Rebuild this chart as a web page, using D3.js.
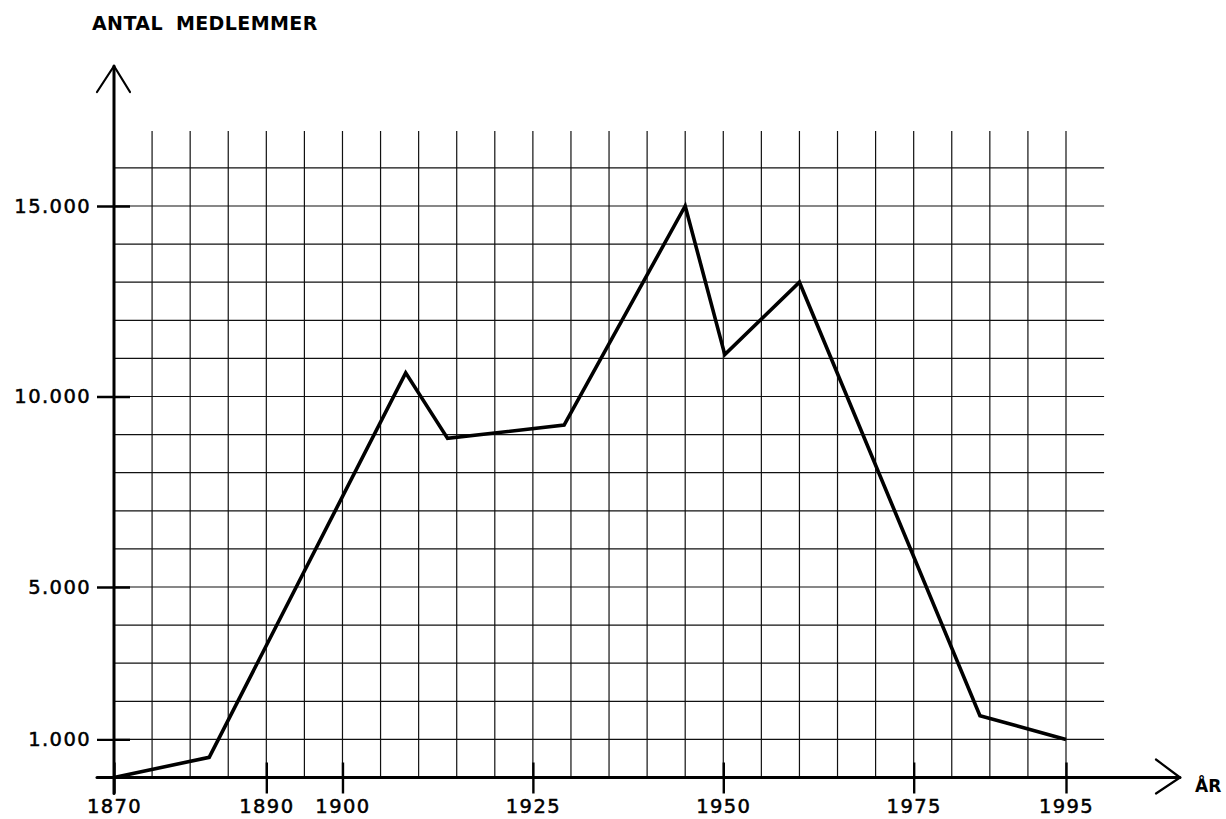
<!DOCTYPE html>
<html>
<head>
<meta charset="utf-8">
<script src="https://cdn.jsdelivr.net/npm/d3@7"></script>
<style>
  html, body { margin: 0; padding: 0; background: #fff; }
  svg { display: block; }
  text { font-family: "DejaVu Sans", sans-serif; fill: #000; }
</style>
</head>
<body>
<svg id="chart" width="1226" height="819"></svg>
<script>
// ---- data ----
const years   = [1870, 1882.5, 1908.3, 1913.8, 1929.1, 1945, 1950.2, 1960, 1983.7, 1995];
const members = [0, 530, 10620, 8900, 9250, 15000, 11100, 13000, 1620, 1000];
const xTickYears = [1870, 1890, 1900, 1925, 1950, 1975, 1995];
const yTickValues = [1000, 5000, 10000, 15000];
const yTickLabels = ["1.000", "5.000", "10.000", "15.000"];
const gridYears = d3.range(1875, 2000, 5);
const gridValues = d3.range(1000, 17000, 1000);
const titleText = "ANTAL MEDLEMMER";
const xAxisLabel = "ÅR";

// ---- scales ----
const x = d3.scaleLinear().domain([1870, 1995]).range([114, 1066]);
const y = d3.scaleLinear().domain([0, 15000]).range([777.5, 206]);

const svg = d3.select("#chart");

// grid
const grid = svg.append("g").attr("stroke", "#111").attr("stroke-width", 1.2);
grid.selectAll("line.v").data(gridYears).join("line")
  .attr("x1", d => x(d)).attr("x2", d => x(d))
  .attr("y1", y(16000) - 37).attr("y2", y(0));
grid.selectAll("line.h").data(gridValues).join("line")
  .attr("x1", x(1870)).attr("x2", x(2000))
  .attr("y1", d => y(d)).attr("y2", d => y(d));

// x axis (labels + ticks)
const xAxis = d3.axisBottom(x)
  .tickValues(xTickYears)
  .tickFormat(d3.format("d"))
  .tickSize(16)
  .tickPadding(6);
const gx = svg.append("g").attr("transform", `translate(0,${y(0)})`).call(xAxis);
gx.select(".domain").remove();
gx.selectAll(".tick line").attr("y1", -15).attr("y2", 16).attr("stroke", "#000").attr("stroke-width", 2.4);
gx.selectAll(".tick text")
  .attr("y", 21.5).attr("dy", "0.71em")
  .style("font-size", "19.5px").style("font-weight", "normal")
  .style("letter-spacing", "1.4px").style("stroke", "#000").style("stroke-width", "0.5px")
  .attr("fill", "#000");

// y axis
const yAxis = d3.axisLeft(y)
  .tickValues(yTickValues)
  .tickFormat((d, i) => yTickLabels[i])
  .tickSize(17)
  .tickPadding(6);
const gy = svg.append("g").attr("transform", `translate(${x(1870)},0)`).call(yAxis);
gy.select(".domain").remove();
gy.selectAll(".tick line").attr("x1", -17).attr("x2", 16).attr("stroke", "#000").attr("stroke-width", 2.4);
gy.selectAll(".tick text")
  .attr("x", -23)
  .style("font-size", "19.5px").style("font-weight", "normal")
  .style("letter-spacing", "1.4px").style("stroke", "#000").style("stroke-width", "0.5px")
  .attr("fill", "#000");

// main axes with arrows
const axes = svg.append("g").attr("stroke", "#000").attr("stroke-width", 3)
  .attr("fill", "none").attr("stroke-linecap", "round").attr("stroke-linejoin", "round");
const x0 = x(1870), y0 = y(0);
axes.append("line").attr("x1", x0 - 17).attr("x2", 1180).attr("y1", y0).attr("y2", y0);
axes.append("line").attr("x1", x0).attr("x2", x0).attr("y1", y0 + 16).attr("y2", 66);
axes.append("path").attr("d", `M${x0 - 17},92 L${x0},66 L${x0 + 16},92`).attr("stroke-width", 2.2);
axes.append("path").attr("d", `M1156,${y0 - 18} L1180,${y0} L1156,${y0 + 16}`).attr("stroke-width", 2.2);

// data line
const line = d3.line().x((d, i) => x(years[i])).y(d => y(d));
svg.append("path")
  .datum(members)
  .attr("d", line)
  .attr("fill", "none")
  .attr("stroke", "#000")
  .attr("stroke-width", 3.6)
  .attr("stroke-linejoin", "miter");

// title and axis label
svg.append("text").attr("x", 92).attr("y", 29.5)
  .style("font-size", "19px").style("font-weight", "bold")
  .style("letter-spacing", "0.4px").style("word-spacing", "6px")
  .text(titleText);
svg.append("text").attr("x", 1195).attr("y", 792)
  .style("font-size", "17px").style("font-weight", "bold")
  .text(xAxisLabel);
</script>
</body>
</html>
